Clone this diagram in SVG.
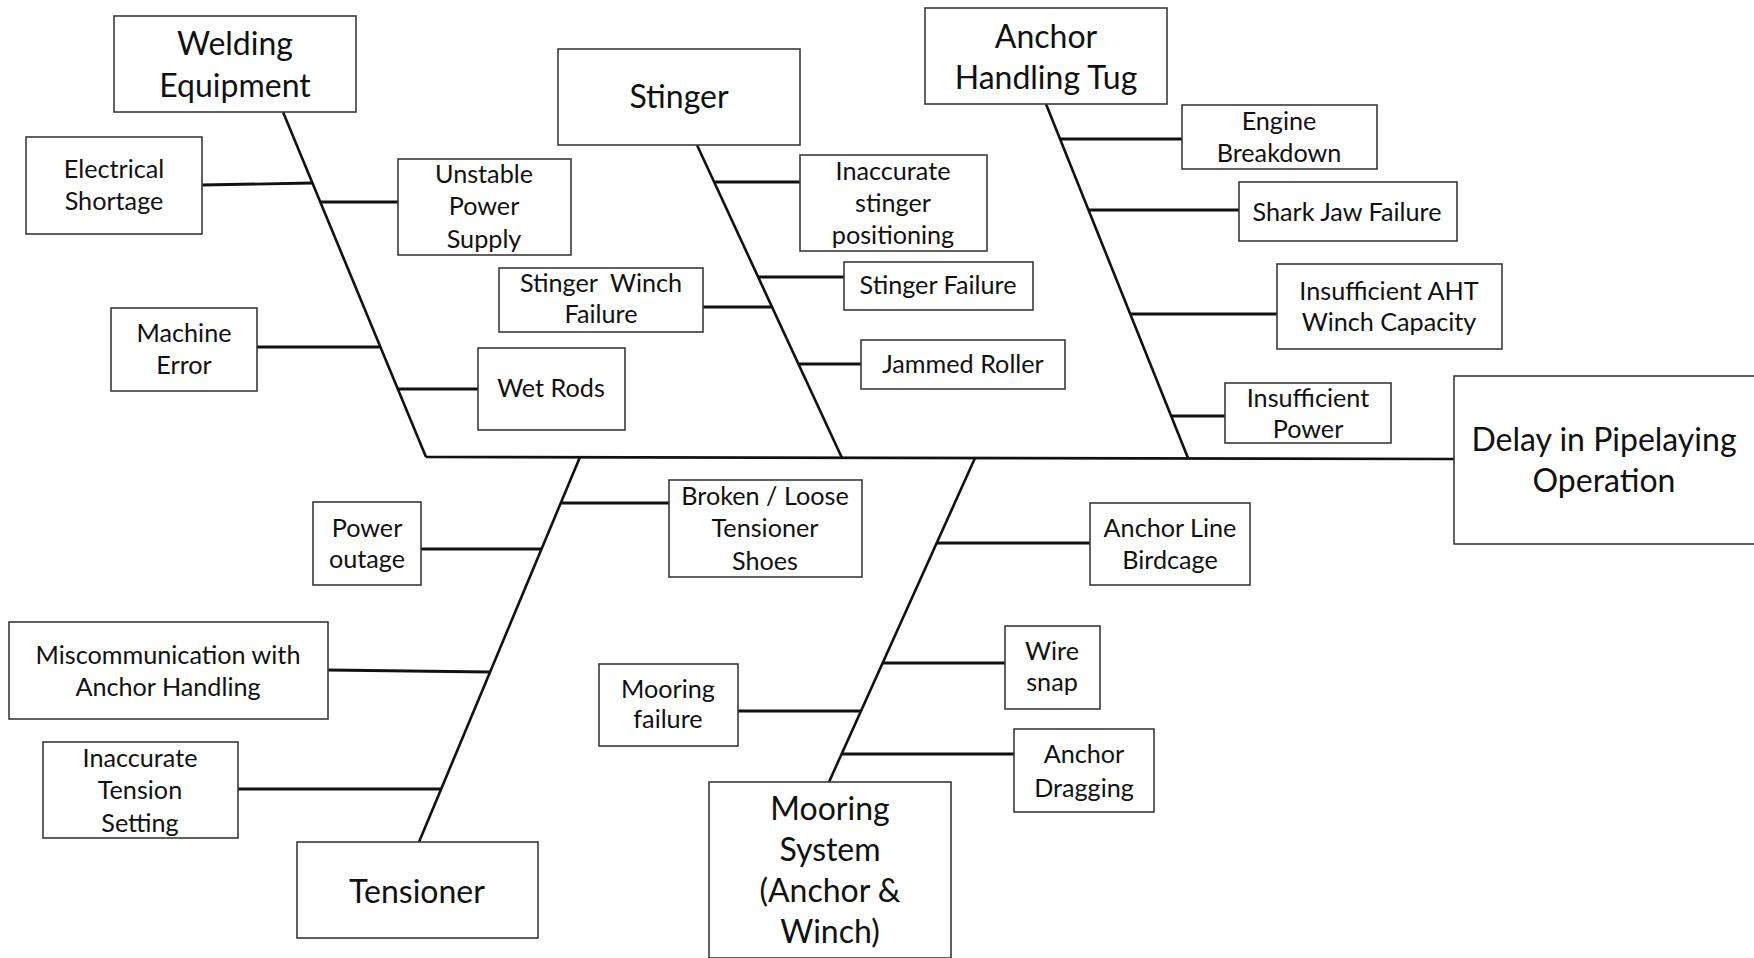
<svg xmlns="http://www.w3.org/2000/svg" width="1754" height="958" viewBox="0 0 1754 958">
  <style>
    .box { fill: #ffffff; stroke: #3a3a3a; stroke-width: 1.6; }
    .head { font-family: Lato, "Liberation Sans", sans-serif; font-size: 32px; fill: #111; text-anchor: middle; }
    .lbl { font-family: Lato, "Liberation Sans", sans-serif; font-size: 25.2px; fill: #111; text-anchor: middle; }
    .bone { stroke: #111; stroke-width: 2.6; fill: none; }
    .rib { stroke: #111; stroke-width: 2.8; fill: none; }
  </style>
  <rect width="1754" height="958" fill="#ffffff"/>

  <!-- fishbone: spine, main bones and cause ribs -->
  <g id="connectors">
    <line class="bone" x1="426" y1="457" x2="1454" y2="459"/>
    <!-- upper bones -->
    <line class="bone" x1="283" y1="112" x2="426" y2="457"/>
    <line class="bone" x1="697" y1="145" x2="842" y2="458"/>
    <line class="bone" x1="1046" y1="104" x2="1188" y2="458"/>
    <!-- lower bones -->
    <line class="bone" x1="580" y1="457" x2="419" y2="842"/>
    <line class="bone" x1="975" y1="458" x2="829" y2="782"/>

    <!-- Welding Equipment ribs -->
    <line class="rib" x1="202" y1="185" x2="312" y2="183"/>
    <line class="rib" x1="320" y1="202" x2="398" y2="202"/>
    <line class="rib" x1="257" y1="347" x2="380" y2="347"/>
    <line class="rib" x1="398" y1="389" x2="478" y2="389"/>
    <!-- Stinger ribs -->
    <line class="rib" x1="714" y1="182" x2="800" y2="182"/>
    <line class="rib" x1="758" y1="277" x2="844" y2="277"/>
    <line class="rib" x1="703" y1="307" x2="772" y2="307"/>
    <line class="rib" x1="799" y1="364" x2="861" y2="364"/>
    <!-- Anchor Handling Tug ribs -->
    <line class="rib" x1="1060" y1="139" x2="1182" y2="139"/>
    <line class="rib" x1="1089" y1="210" x2="1239" y2="210"/>
    <line class="rib" x1="1130" y1="314" x2="1277" y2="314"/>
    <line class="rib" x1="1171" y1="416" x2="1225" y2="416"/>
    <!-- Tensioner ribs -->
    <line class="rib" x1="561" y1="503" x2="669" y2="503"/>
    <line class="rib" x1="421" y1="549" x2="541" y2="549"/>
    <line class="rib" x1="328" y1="670" x2="490" y2="672"/>
    <line class="rib" x1="238" y1="789" x2="441" y2="789"/>
    <!-- Mooring System ribs -->
    <line class="rib" x1="937" y1="543" x2="1090" y2="543"/>
    <line class="rib" x1="882" y1="663" x2="1005" y2="663"/>
    <line class="rib" x1="738" y1="711" x2="861" y2="711"/>
    <line class="rib" x1="841" y1="754" x2="1014" y2="754"/>
  </g>

  <!-- effect -->
  <g id="delay">
    <rect class="box" x="1454" y="376" width="304" height="168"/>
    <text class="head" x="1604" y="451">Delay in Pipelaying</text>
    <text class="head" x="1604" y="492">Operation</text>
  </g>

  <!-- category heads -->
  <g id="welding-equipment">
    <rect class="box" x="114" y="16" width="242" height="96"/>
    <text class="head" x="235" y="55">Welding</text>
    <text class="head" x="235" y="97">Equipment</text>
  </g>
  <g id="stinger">
    <rect class="box" x="558" y="49" width="242" height="96"/>
    <text class="head" x="679" y="108">Stinger</text>
  </g>
  <g id="anchor-handling-tug">
    <rect class="box" x="925" y="8" width="242" height="96"/>
    <text class="head" x="1046" y="48">Anchor</text>
    <text class="head" x="1046" y="89">Handling Tug</text>
  </g>
  <g id="tensioner">
    <rect class="box" x="297" y="842" width="241" height="96"/>
    <text class="head" x="417" y="903">Tensioner</text>
  </g>
  <g id="mooring-system">
    <rect class="box" x="709" y="782" width="242" height="176"/>
    <text class="head" x="830" y="820">Mooring</text>
    <text class="head" x="830" y="861">System</text>
    <text class="head" x="830" y="902">(Anchor &amp;</text>
    <text class="head" x="830" y="943">Winch)</text>
  </g>

  <!-- Welding Equipment causes -->
  <g id="electrical-shortage">
    <rect class="box" x="26" y="137" width="176" height="97"/>
    <text class="lbl" x="114" y="178">Electrical</text>
    <text class="lbl" x="114" y="210">Shortage</text>
  </g>
  <g id="unstable-power-supply">
    <rect class="box" x="398" y="159" width="173" height="96"/>
    <text class="lbl" x="484" y="183">Unstable</text>
    <text class="lbl" x="484" y="215">Power</text>
    <text class="lbl" x="484" y="248">Supply</text>
  </g>
  <g id="machine-error">
    <rect class="box" x="111" y="308" width="146" height="83"/>
    <text class="lbl" x="184" y="342">Machine</text>
    <text class="lbl" x="184" y="374">Error</text>
  </g>
  <g id="wet-rods">
    <rect class="box" x="478" y="348" width="147" height="82"/>
    <text class="lbl" x="551" y="397">Wet Rods</text>
  </g>

  <!-- Stinger causes -->
  <g id="inaccurate-stinger-positioning">
    <rect class="box" x="800" y="155" width="187" height="96"/>
    <text class="lbl" x="893" y="180">Inaccurate</text>
    <text class="lbl" x="893" y="212">stinger</text>
    <text class="lbl" x="893" y="244">positioning</text>
  </g>
  <g id="stinger-failure">
    <rect class="box" x="844" y="262" width="189" height="48"/>
    <text class="lbl" x="938" y="294">Stinger Failure</text>
  </g>
  <g id="stinger-winch-failure">
    <rect class="box" x="499" y="268" width="204" height="64"/>
    <text class="lbl" x="601" y="292" xml:space="preserve">Stinger  Winch</text>
    <text class="lbl" x="601" y="323">Failure</text>
  </g>
  <g id="jammed-roller">
    <rect class="box" x="861" y="340" width="204" height="49"/>
    <text class="lbl" x="963" y="373">Jammed Roller</text>
  </g>

  <!-- Anchor Handling Tug causes -->
  <g id="engine-breakdown">
    <rect class="box" x="1182" y="105" width="195" height="64"/>
    <text class="lbl" x="1279" y="130">Engine</text>
    <text class="lbl" x="1279" y="162">Breakdown</text>
  </g>
  <g id="shark-jaw-failure">
    <rect class="box" x="1239" y="182" width="218" height="59"/>
    <text class="lbl" x="1347" y="221">Shark Jaw Failure</text>
  </g>
  <g id="insufficient-aht-winch-capacity">
    <rect class="box" x="1277" y="264" width="225" height="85"/>
    <text class="lbl" x="1389" y="300">Insufficient AHT</text>
    <text class="lbl" x="1389" y="331">Winch Capacity</text>
  </g>
  <g id="insufficient-power">
    <rect class="box" x="1225" y="383" width="166" height="60"/>
    <text class="lbl" x="1308" y="407">Insufficient</text>
    <text class="lbl" x="1308" y="438">Power</text>
  </g>

  <!-- Tensioner causes -->
  <g id="broken-loose-tensioner-shoes">
    <rect class="box" x="669" y="480" width="193" height="97"/>
    <text class="lbl" x="765" y="505">Broken / Loose</text>
    <text class="lbl" x="765" y="537">Tensioner</text>
    <text class="lbl" x="765" y="570">Shoes</text>
  </g>
  <g id="power-outage">
    <rect class="box" x="313" y="502" width="108" height="83"/>
    <text class="lbl" x="367" y="537">Power</text>
    <text class="lbl" x="367" y="568">outage</text>
  </g>
  <g id="miscommunication">
    <rect class="box" x="9" y="622" width="319" height="97"/>
    <text class="lbl" x="168" y="664">Miscommunication with</text>
    <text class="lbl" x="168" y="696">Anchor Handling</text>
  </g>
  <g id="inaccurate-tension-setting">
    <rect class="box" x="43" y="742" width="195" height="96"/>
    <text class="lbl" x="140" y="767">Inaccurate</text>
    <text class="lbl" x="140" y="799">Tension</text>
    <text class="lbl" x="140" y="832">Setting</text>
  </g>

  <!-- Mooring System causes -->
  <g id="anchor-line-birdcage">
    <rect class="box" x="1090" y="503" width="160" height="82"/>
    <text class="lbl" x="1170" y="537">Anchor Line</text>
    <text class="lbl" x="1170" y="569">Birdcage</text>
  </g>
  <g id="wire-snap">
    <rect class="box" x="1005" y="626" width="95" height="83"/>
    <text class="lbl" x="1052" y="660">Wire</text>
    <text class="lbl" x="1052" y="691">snap</text>
  </g>
  <g id="mooring-failure">
    <rect class="box" x="599" y="664" width="139" height="82"/>
    <text class="lbl" x="668" y="698">Mooring</text>
    <text class="lbl" x="668" y="728">failure</text>
  </g>
  <g id="anchor-dragging">
    <rect class="box" x="1014" y="729" width="140" height="83"/>
    <text class="lbl" x="1084" y="763">Anchor</text>
    <text class="lbl" x="1084" y="797">Dragging</text>
  </g>
</svg>
